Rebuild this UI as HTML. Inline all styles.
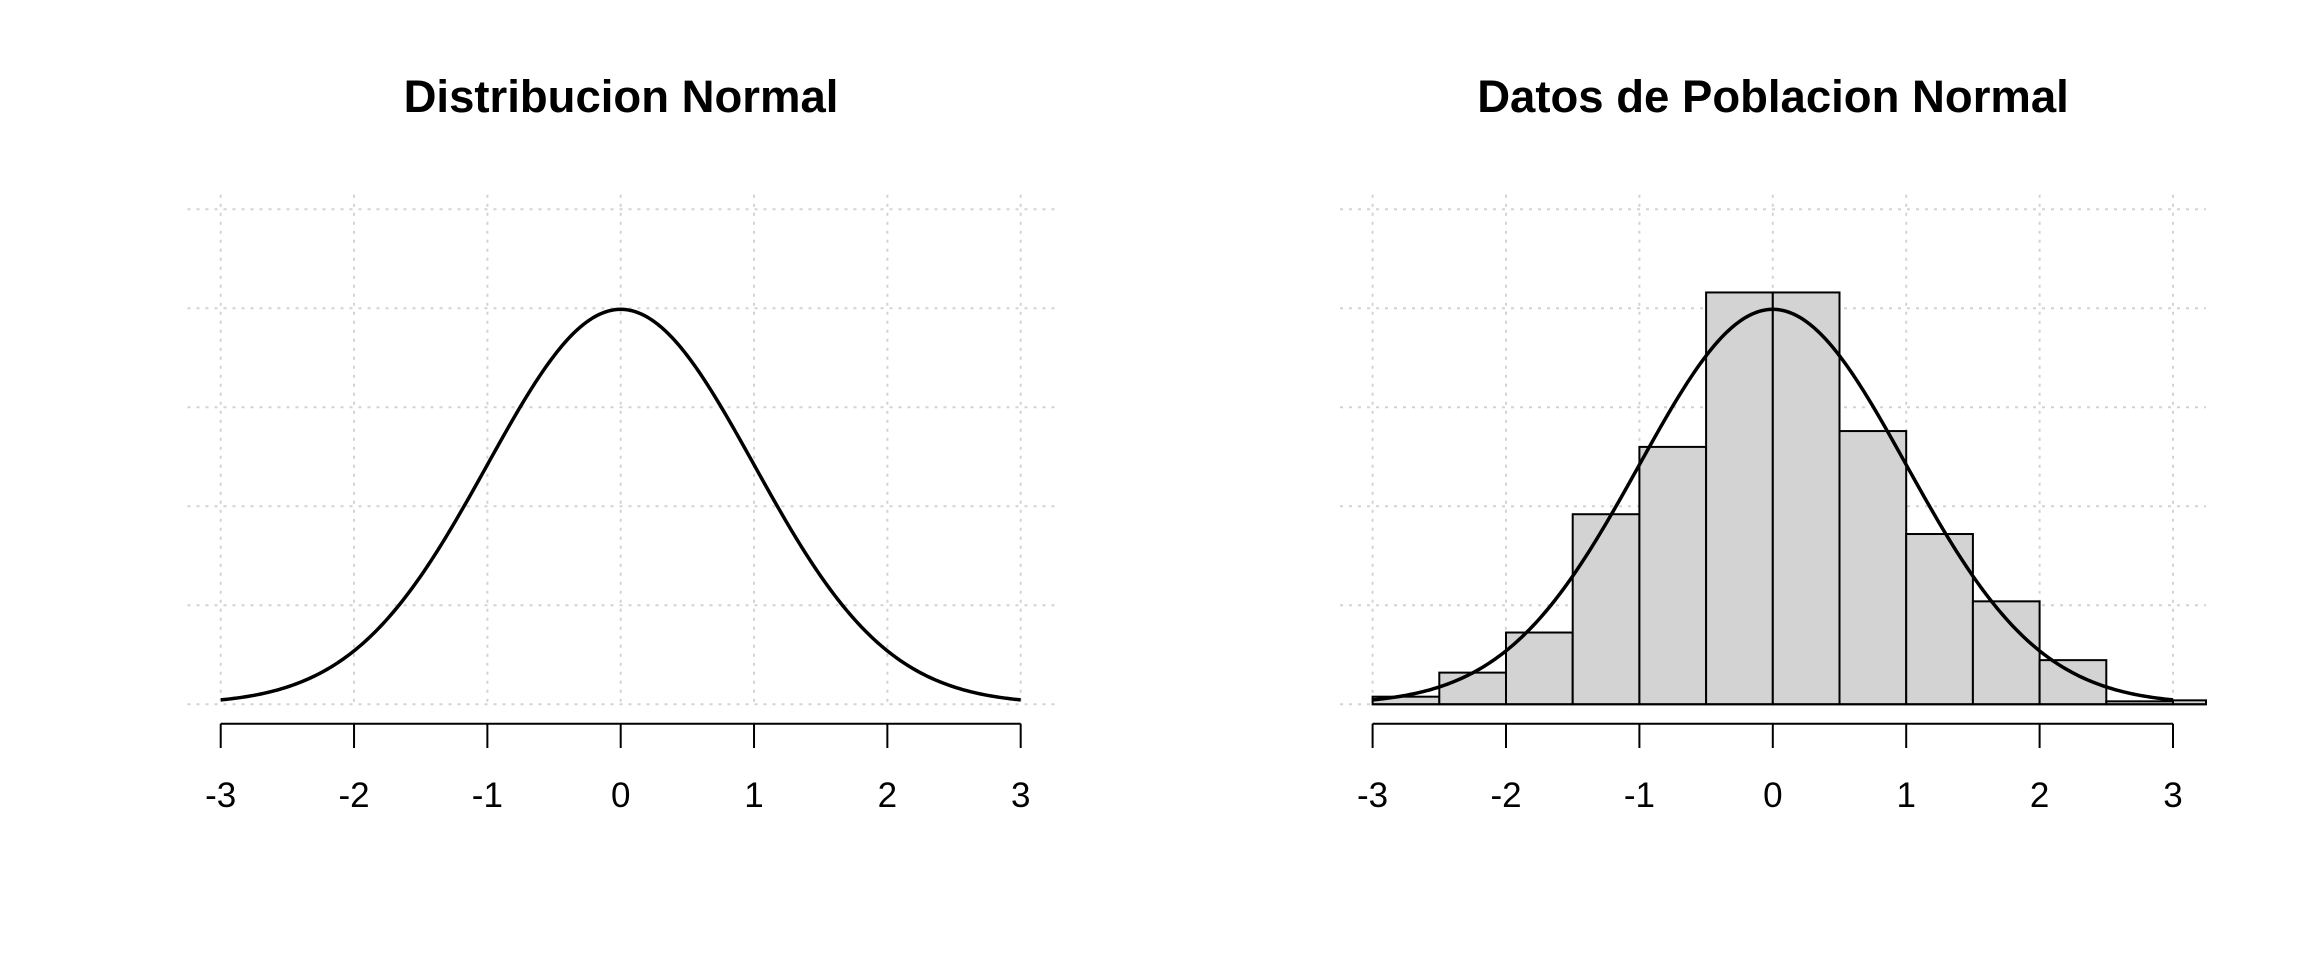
<!DOCTYPE html>
<html><head><meta charset="utf-8"><style>html,body{margin:0;padding:0;background:#fff}svg{display:block}</style></head>
<body>
<svg id="s" width="2304" height="960" xmlns="http://www.w3.org/2000/svg" font-family="Liberation Sans, Arial, sans-serif">
<text x="621" y="112" font-size="45.5" font-weight="bold" text-anchor="middle">Distribucion Normal</text>
<text x="1773" y="112" font-size="45.5" font-weight="bold" text-anchor="middle">Datos de Poblacion Normal</text>
<g id="g"></g>
</svg>
<script>
var NS="http://www.w3.org/2000/svg",g=document.getElementById('g');
function el(t,a){var e=document.createElementNS(NS,t);for(var k in a)e.setAttribute(k,a[k]);g.appendChild(e);return e;}
var y0=704.3,U=990;
function pdf(x){return Math.exp(-x*x/2)/Math.sqrt(2*Math.PI);}
function panel(x0,unit,gl,gr,hist){
  var X=function(v){return x0+unit*v;};
  for(var i=-3;i<=3;i++) el('line',{x1:X(i),x2:X(i),y1:194.7,y2:y0,stroke:'#d3d3d3','stroke-width':2,'stroke-dasharray':'3,6'});
  for(var j=0;j<=5;j++){var y=y0-j*0.1*U;el('line',{x1:gl,x2:gr,y1:y,y2:y,stroke:'#d3d3d3','stroke-width':2,'stroke-dasharray':'3,6'});}
  if(hist){
    var d=[0.0077,0.032,0.0725,0.192,0.260,0.416,0.416,0.276,0.172,0.104,0.0446,0.003,0.004];
    for(var k=0;k<d.length;k++){
      var a=X(-3+k*0.5),b=Math.min(X(-2.5+k*0.5),gr);
      el('rect',{x:a,y:y0-d[k]*U,width:b-a,height:d[k]*U,fill:'#d3d3d3',stroke:'#000','stroke-width':2});
    }
    el('line',{x1:X(-3),x2:gr,y1:y0,y2:y0,stroke:'#000','stroke-width':2});
  }
  var p='';
  for(var v=-3;v<=3.0001;v+=0.02){p+=(p?'L':'M')+X(v).toFixed(2)+','+(y0-pdf(v)*U).toFixed(2);}
  el('path',{d:p,fill:'none',stroke:'#000','stroke-width':3.5});
  el('line',{x1:X(-3),x2:X(3),y1:723.7,y2:723.7,stroke:'#000','stroke-width':2});
  for(var i=-3;i<=3;i++){
    el('line',{x1:X(i),x2:X(i),y1:723.7,y2:748,stroke:'#000','stroke-width':2});
    var t=el('text',{x:X(i),y:807,'font-size':35,'text-anchor':'middle'});t.textContent=String(i);
  }
}
panel(620.7,133.33,187.5,1054.5,false);
panel(1772.8,133.4,1340,2206,true);
</script>
</body></html>
